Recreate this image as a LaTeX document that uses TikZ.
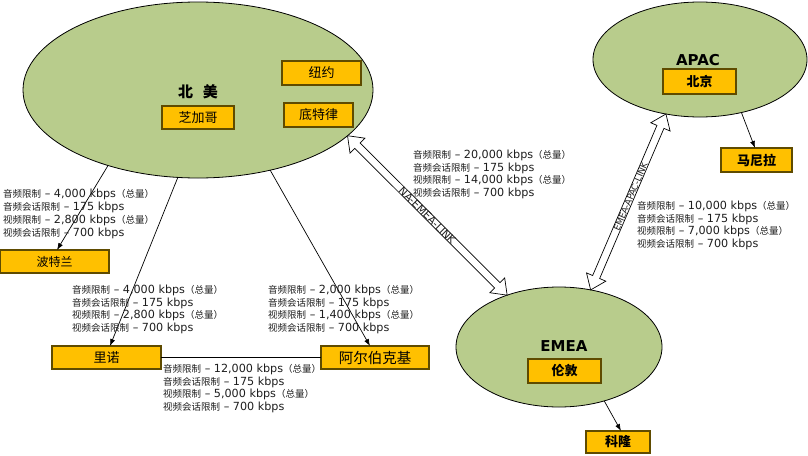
\documentclass[tikz,border=0pt]{standalone}
\usepackage{fontspec}
\setmainfont{DejaVu Sans}
\newfontfamily\cjkf{Noto Sans CJK SC}
\usetikzlibrary{shapes.geometric,arrows.meta,calc}
\definecolor{regfill}{RGB}{184,204,140}
\definecolor{boxfill}{RGB}{255,192,0}
\definecolor{boxline}{RGB}{95,75,0}
\definecolor{txt}{RGB}{30,30,30}
\newcommand\zh[1]{{\cjkf\fontsize{9.5}{12.8}\selectfont #1}}
\newcommand\bwlines[2]{\zh{音频限制} – #1 kbps\zh{（总量）}\\\zh{音频会话限制} – 175 kbps\\\zh{视频限制} – #2 kbps\zh{（总量）}\\\zh{视频会话限制} – 700 kbps}
\newcommand\dblarrow[2]{%
  \coordinate (#1#2a) at ($(#1)!14pt!(#2)$);
  \coordinate (#1#2b) at ($(#2)!14pt!(#1)$);
  \filldraw[fill=white,draw=black,line width=0.7pt,line join=miter]
    (#1) -- ($(#1#2a)!10.5pt!90:(#2)$) -- ($(#1#2a)!3.8pt!90:(#2)$)
    -- ($(#1#2b)!3.8pt!-90:(#1)$) -- ($(#1#2b)!10.5pt!-90:(#1)$) -- (#2)
    -- ($(#1#2b)!10.5pt!90:(#1)$) -- ($(#1#2b)!3.8pt!90:(#1)$)
    -- ($(#1#2a)!3.8pt!-90:(#2)$) -- ($(#1#2a)!10.5pt!-90:(#2)$) -- cycle;}
\tikzset{
  region/.style={ellipse,draw=black,line width=0.8pt,fill=regfill,inner sep=0pt,outer sep=0pt},
  cbox/.style={rectangle,draw=boxline,line width=1.3pt,fill=boxfill,inner sep=0pt,outer sep=0pt,
    font=\cjkf\fontsize{13}{13}\selectfont},
  bbox/.style={cbox,font=\cjkf\bfseries\fontsize{13}{13}\selectfont},
  rtitle/.style={font=\bfseries\fontsize{15}{15}\selectfont,inner sep=0pt},
  limits/.style={anchor=north west,inner sep=0pt,align=left,text=txt,font=\fontsize{11.2}{12.8}\selectfont},
  thinarrow/.style={draw=black,line width=0.7pt,-{Latex[length=7pt,width=5pt]}},
  linklabel/.style={sloped,inner sep=0pt,text=txt}
}
\begin{document}
\begin{tikzpicture}[x=1pt,y=-1pt]
\fill[white] (0,0) rectangle (808,455);
\useasboundingbox (0,0) rectangle (808,455);

% regions
\node[region,minimum width=350pt,minimum height=176pt] (na) at (198,90) {};
\node[region,minimum width=214pt,minimum height=115pt] (ap) at (700,59.5) {};
\node[region,minimum width=206pt,minimum height=120pt] (em) at (559,347) {};

\node[rtitle,font=\cjkf\bfseries\fontsize{15}{15}\selectfont] (natitle) at (198,92) {北\hspace{10pt}美};
\node[rtitle] (aptitle) at (698,60) {APAC};
\node[rtitle] (emtitle) at (564,346) {EMEA};

% city boxes
\node[cbox,minimum width=72pt,minimum height=23pt] (chi) at (198,117.5) {芝加哥};
\node[cbox,minimum width=79pt,minimum height=24pt] (ny) at (321.5,73) {纽约};
\node[cbox,minimum width=69pt,minimum height=24pt] (det) at (318.5,115) {底特律};
\node[cbox,minimum width=109pt,minimum height=23pt,font=\cjkf\fontsize{12}{12}\selectfont] (pt) at (54.5,261.5) {波特兰};
\node[cbox,minimum width=109pt,minimum height=23pt] (rn) at (106.5,357.5) {里诺};
\node[cbox,minimum width=108pt,minimum height=23pt,font=\cjkf\fontsize{14.5}{14.5}\selectfont] (ab) at (375,357.5) {阿尔伯克基};
\node[bbox,minimum width=73pt,minimum height=25pt] (bj) at (699.5,81.5) {北京};
\node[bbox,minimum width=71pt,minimum height=24pt] (mn) at (756.5,160) {马尼拉};
\node[bbox,minimum width=73pt,minimum height=24pt] (ld) at (564.5,371) {伦敦};
\node[bbox,minimum width=64pt,minimum height=22pt] (kl) at (618,442) {科隆};

% thin arrows
\draw[thinarrow] (na.220) -- ([xshift=2.5pt]pt.north);
\draw[thinarrow] (na.257) -- ([xshift=3.5pt]rn.north);
\draw[thinarrow] (na.312.5) -- ([xshift=-5pt]ab.north);
\draw[thinarrow] (ap.308) -- ([xshift=-1.5pt]mn.north);
\draw[thinarrow] (em.310) -- ([xshift=3pt]kl.north);
\draw[line width=1.6pt] (rn.east) -- (ab.west);

% inter-region links
\coordinate (naE) at (na.-17.7);
\coordinate (emNW) at (em.135);
\coordinate (emNE) at (em.61.5);
\coordinate (apS) at (ap.238.2);
\dblarrow{naE}{emNW}
\dblarrow{emNE}{apS}
\path (naE) -- (emNW) node[linklabel,pos=0.5,font=\fontsize{10.5}{10.5}\selectfont] (l1) {NA-EMEA-LINK};
\path (emNE) -- (apS) node[linklabel,pos=0.53,font=\fontsize{8.8}{8.8}\selectfont] (l2) {EMEA-APAC-LINK};

% bandwidth limits
\node[limits] (tpt) at (3,189) {\bwlines{4,000}{2,800}};
\node[limits] (trn) at (72,284.5) {\bwlines{4,000}{2,800}};
\node[limits] (tab) at (268,284.5) {\bwlines{2,000}{1,400}};
\node[limits] (trr) at (163,363.5) {\bwlines{12,000}{5,000}};
\node[limits] (tne) at (413,149.5) {\bwlines{20,000}{14,000}};
\node[limits] (tea) at (637,200.5) {\bwlines{10,000}{7,000}};
\end{tikzpicture}
\end{document}
